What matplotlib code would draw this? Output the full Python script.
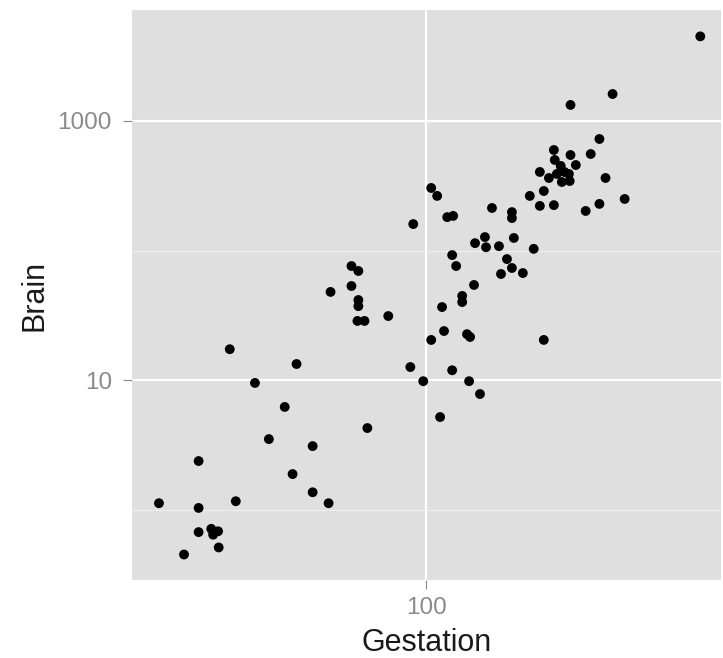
import matplotlib
matplotlib.use("Agg")
import matplotlib.pyplot as plt
from matplotlib.ticker import FixedLocator, NullFormatter

plt.rcParams['font.family'] = ['Liberation Sans', 'DejaVu Sans']

# Gestation period (days) and brain weight (g) for each species
gestation = [
    16.0, 19.0, 21.0, 21.0, 21.0, 22.9, 24.0, 23.2, 24.1, 26.0,
    27.1, 30.9, 34.0, 37.9, 40.0, 41.1, 45.9, 45.9, 51.2, 66.8,
    51.9, 59.9, 62.8, 59.9, 62.8, 62.8, 62.4, 65.5, 77.1, 89.7,
    98.0, 110, 103.5, 113, 111.5, 128, 128, 138.8, 119.5, 122.8,
    119.5, 134.2, 144.6, 132.3, 135.1, 167, 174, 180, 194, 224,
    182.4, 209, 139.8, 149.6, 150.7, 164.7, 103.5, 107.8, 91.5, 115.5,
    120.3, 157, 180, 180, 203.5, 224, 218, 240, 298.5, 328,
    390, 342, 309, 328, 269, 359, 655,
    240, 269, 279, 241.5, 251.5, 258, 245, 266, 218, 232, 253.5, 267.5,
]
brain = [
    1.12, 0.45, 2.37, 1.03, 0.67, 0.71, 0.68, 0.64, 0.51, 17.3,
    1.16, 9.5, 3.5, 6.2, 1.88, 13.3, 3.09, 1.36, 1.12, 4.26,
    47.9, 75.9, 69.5, 53.2, 41.5, 37.2, 28.6, 28.6, 31.2, 12.6,
    9.8, 5.18, 20.4, 23.9, 36.6, 44.6, 40.0, 54.2, 92.2, 75.9,
    11.9, 9.8, 7.8, 22.6, 21.5, 65.9, 85.9, 73.3, 67.0, 20.4,
    125, 103, 114, 127, 106, 108, 304, 264, 160, 181,
    185, 213, 198, 178, 264, 288, 221, 224, 202, 229,
    250, 363, 556, 726, 1330, 1615, 4500,
    597, 546, 457, 500, 450, 404, 390, 390, 404, 363, 338, 344,
]

x_major = [100]
y_major = [10, 1000]
y_minor = [1, 100]
x_labels = ["100"]
y_labels = ["10", "1000"]

W, H = 723, 658
fig = plt.figure(figsize=(W / 100, H / 100), dpi=100)
ax = fig.add_axes([132 / W, 78 / H, 589 / W, 570 / H])

ax.set_xscale('log')
ax.set_yscale('log')
ax.set_xlim(13.3, 755)
ax.set_ylim(0.286, 7190)

ax.set_facecolor('#DFDFDF')
for s in ax.spines.values():
    s.set_visible(False)

ax.xaxis.set_major_locator(FixedLocator(x_major))
ax.xaxis.set_minor_locator(FixedLocator([]))
ax.yaxis.set_major_locator(FixedLocator(y_major))
ax.yaxis.set_minor_locator(FixedLocator(y_minor))
ax.set_xticklabels(x_labels)
ax.set_yticklabels(y_labels)
ax.yaxis.set_minor_formatter(NullFormatter())

ax.grid(True, which='major', color='white', linewidth=1.6)
ax.grid(True, which='minor', axis='y', color='#F0F0F0', linewidth=0.8)
ax.set_axisbelow(True)

ax.tick_params(which='major', length=6.5, width=0.8, color='#8A8A8A',
               labelcolor='#8A8A8A', labelsize=17.5, pad=6)
ax.tick_params(axis='y', which='major', pad=8)
ax.tick_params(which='minor', length=0)

ax.scatter(gestation, brain, s=50, color='black', edgecolors='none', zorder=3)

ax.set_xlabel('Gestation', fontsize=22, color='#1A1A1A', labelpad=6)
ax.set_ylabel('Brain', fontsize=22, color='#1A1A1A', labelpad=6)

fig.savefig('out.png', dpi=100, facecolor='white')
